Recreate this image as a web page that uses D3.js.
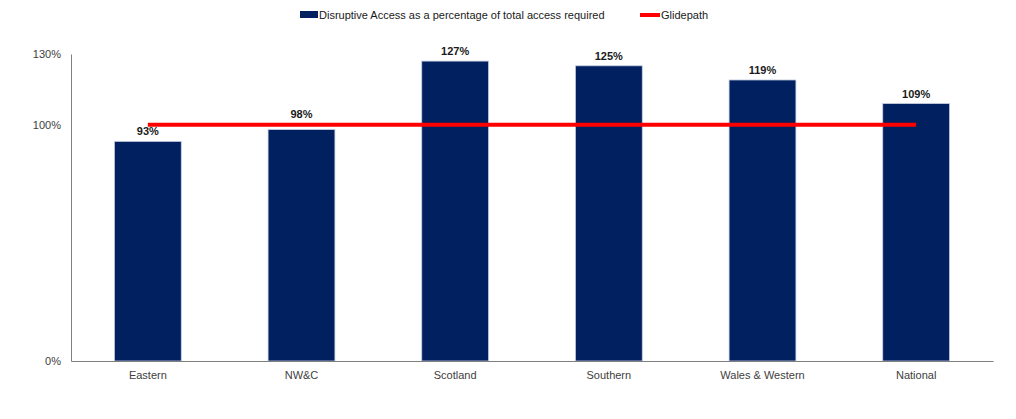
<!DOCTYPE html>
<html>
<head>
<meta charset="utf-8">
<script src="https://cdn.jsdelivr.net/npm/d3@7"></script>
<style>
  body { margin: 0; background: #fff; }
  text { font-family: "Liberation Sans", Arial, sans-serif; }
</style>
</head>
<body>
<div id="main"></div>
<script>
var regions = ["Eastern", "NW&C", "Scotland", "Southern", "Wales & Western", "National"];
var access = [0.93, 0.98, 1.27, 1.25, 1.19, 1.09];
var glidepath = [1.00, 1.00, 1.00, 1.00, 1.00, 1.00];
var yTicks = [0, 1.0, 1.3];
var seriesNames = ["Disruptive Access as a percentage of total access required", "Glidepath"];

var width = 1016, height = 419;
var svg = d3.select("#main").append("svg")
  .attr("width", width).attr("height", height);

var x = d3.scaleBand().domain(regions).range([71, 993]).paddingInner(0.565).paddingOuter(0.2825);
var y = d3.scaleLinear().domain([0, 1.3]).range([361, 54]);

// bars
svg.append("g").selectAll("rect")
  .data(access)
  .enter().append("rect")
  .attr("x", function (d, i) { return x(regions[i]); })
  .attr("y", function (d) { return y(d); })
  .attr("width", x.bandwidth())
  .attr("height", function (d) { return y(0) - y(d); })
  .style("fill", "#002060")
  .style("stroke", "#c5cde0")
  .style("stroke-width", 0.8);

// value labels, lifted above the glidepath when they would sit on it
function labelY(d, i) {
  var base = y(d) - 6;
  var lineY = y(glidepath[i]);
  if (base > lineY - 2 && base - 8 < lineY + 2) base = lineY - 7;
  return base;
}
svg.append("g").selectAll("text")
  .data(access)
  .enter().append("text")
  .attr("x", function (d, i) { return x(regions[i]) + x.bandwidth() / 2; })
  .attr("y", labelY)
  .attr("text-anchor", "middle")
  .style("font-size", "11px")
  .style("font-weight", "bold")
  .style("fill", "#1a1a1a")
  .text(function (d) { return Math.round(d * 100) + "%"; });

// glidepath line
var line = d3.line()
  .x(function (d, i) { return x(regions[i]) + x.bandwidth() / 2; })
  .y(function (d) { return y(d); });
svg.append("path")
  .datum(glidepath)
  .attr("d", line)
  .style("fill", "none")
  .style("stroke", "#ff0000")
  .style("stroke-width", 4);

// axes
var yAxis = svg.append("g")
  .attr("transform", "translate(71,0)")
  .call(d3.axisLeft(y).tickValues(yTicks).tickSize(0).tickPadding(10)
    .tickFormat(function (d) { return Math.round(d * 100) + "%"; }));
yAxis.select(".domain").style("stroke", "#7f7f7f");
yAxis.selectAll("text").style("font-size", "11px").style("fill", "#404040")
  .style("font-family", "Liberation Sans, Arial, sans-serif");

var xAxis = svg.append("g")
  .attr("transform", "translate(0,361)")
  .call(d3.axisBottom(x).tickSize(0).tickPadding(10));
xAxis.select(".domain").style("stroke", "#7f7f7f");
xAxis.selectAll("text").style("font-size", "11px").style("fill", "#404040")
  .style("font-family", "Liberation Sans, Arial, sans-serif");

// legend
var legend = svg.append("g");
legend.append("rect")
  .attr("x", 300).attr("y", 11).attr("width", 18).attr("height", 7)
  .style("fill", "#002060");
legend.append("text")
  .attr("x", 319).attr("y", 19)
  .style("font-size", "11px").style("fill", "#1a1a1a")
  .text(seriesNames[0]);
legend.append("line")
  .attr("x1", 640).attr("x2", 660).attr("y1", 15).attr("y2", 15)
  .style("stroke", "#ff0000").style("stroke-width", 4);
legend.append("text")
  .attr("x", 661).attr("y", 19)
  .style("font-size", "11px").style("fill", "#1a1a1a")
  .text(seriesNames[1]);
</script>
</body>
</html>
